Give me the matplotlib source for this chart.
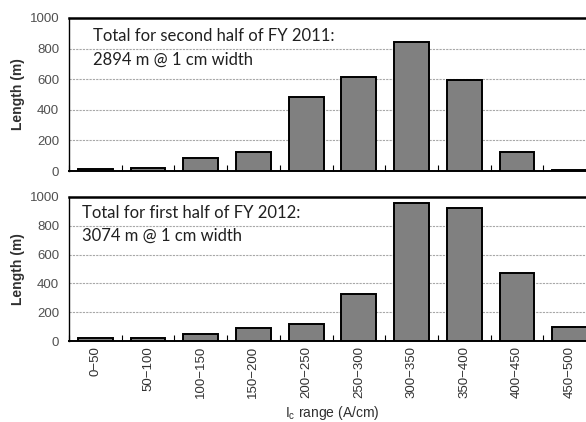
import matplotlib
matplotlib.use("Agg")
import matplotlib.pyplot as plt
import numpy as np

# Ic distribution of produced tape, two half-year periods
ranges = ["0\u221250", "50\u2212100", "100\u2212150", "150\u2212200", "200\u2212250",
          "250\u2212300", "300\u2212350", "350\u2212400", "400\u2212450", "450\u2212500"]
len_fy2011_h2 = [12, 18, 82, 122, 483, 615, 840, 592, 122, 8]
len_fy2012_h1 = [20, 22, 50, 90, 116, 328, 957, 925, 471, 95]
notes = ["Total for second half of FY 2011:\n2894 m @ 1 cm width",
         "Total for first half of FY 2012:\n3074 m @ 1 cm width"]

plt.rcParams['font.family'] = ['Liberation Sans', 'DejaVu Sans']

fig = plt.figure(figsize=(5.86, 4.22), dpi=100)
ax1 = fig.add_axes([69/586, (422-171)/422, 527/586, 153/422])
ax2 = fig.add_axes([69/586, (422-341)/422, 527/586, 144/422])

x = np.arange(len(ranges))
for ax, vals, note, nx, ny in [(ax1, len_fy2011_h2, notes[0], 0.045, 0.805),
                               (ax2, len_fy2012_h1, notes[1], 0.025, 0.81)]:
    ax.bar(x, vals, width=0.66, color="#808080", edgecolor="black", linewidth=1.4, zorder=3)
    ax.set_xlim(-0.5, len(ranges) - 0.5)
    ax.set_ylim(0, 1000)
    ax.set_yticks([0, 200, 400, 600, 800, 1000])
    ax.yaxis.grid(True, linestyle=(0, (2, 1)), color="#a8a8a8", linewidth=0.8, zorder=0)
    ax.tick_params(axis="y", length=0, labelsize=9.5, labelcolor="#505050", pad=7)
    # category boundary ticks, pointing into the plot
    ax.set_xticks(np.arange(len(ranges) + 1) - 0.5, minor=True)
    ax.tick_params(axis="x", which="minor", direction="in", length=4, width=0.8)
    ax.tick_params(axis="x", which="major", length=0)
    ax.set_xticks(x)
    ax.spines["right"].set_visible(False)
    ax.spines["top"].set_linewidth(1.8)
    ax.spines["left"].set_linewidth(1.0)
    ax.spines["bottom"].set_linewidth(1.4)
    ax.set_ylabel("Length (m)", fontsize=10, fontweight="semibold", color="#303030", labelpad=3)
    ax.text(nx, ny, note, transform=ax.transAxes,
            fontsize=12, family=["Lato", "DejaVu Sans"], va="center", linespacing=1.55,
            color="#202020", zorder=4)

ax1.set_xticklabels([])
ax2.set_xticklabels(ranges, rotation=90, fontsize=9.5, color="#303030")
ax2.set_xlabel("I$_\\mathregular{c}$ range (A/cm)", fontsize=10, color="#303030", labelpad=4)

fig.savefig("out.png", dpi=100)
